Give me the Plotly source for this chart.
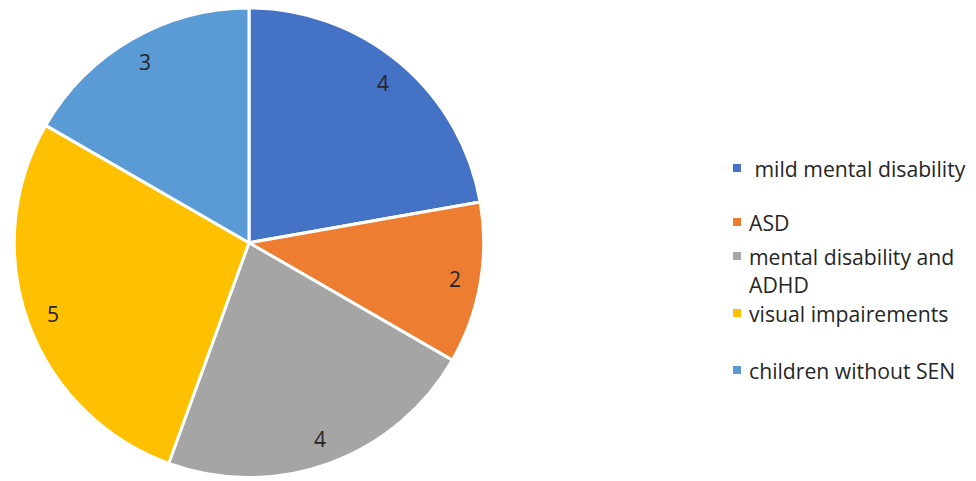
import math
import plotly.graph_objects as go

# data
labels = ["mild mental disability", "ASD", "mental disability and ADHD",
          "visual impairements", "children without SEN"]
values = [4, 2, 4, 5, 3]
colors = ["#4472C4", "#ED7D31", "#A5A5A5", "#FFC000", "#5B9BD5"]

W, H = 976, 481
OFF = 8                      # page body margin
cx, cy, R = 249 - OFF, 234.5, 232   # pie centre / radius in figure pixels
text_col = "#262626"
font_family = "Open Sans, Noto Sans, sans-serif"

dom = R + 3
fig = go.Figure(go.Pie(
    labels=labels, values=values, sort=False, direction="clockwise",
    rotation=0, marker=dict(colors=colors, line=dict(color="white", width=3)),
    textinfo="none", hoverinfo="label+value", showlegend=False,
    domain=dict(x=[max(0, (cx - dom) / W), min(1, (cx + dom) / W)],
                y=[max(0, (H - cy - dom) / H), min(1, (H - cy + dom) / H)]),
))

# value labels near the outer edge ("inside end")
total = sum(values)
acc = 0
for v in values:
    mid = (acc + v / 2) / total * 2 * math.pi
    acc += v
    px = cx + 0.9 * R * math.sin(mid)
    py = cy - 0.9 * R * math.cos(mid)
    fig.add_annotation(x=px / W, y=1 - py / H, xref="paper", yref="paper",
                       text=str(v), showarrow=False,
                       xanchor="center", yanchor="middle",
                       font=dict(size=21, color=text_col, family=font_family))

# legend drawn by hand so spacing follows the original
legend_y = [168, 222, 270, 313, 370]
legend_text = [" mild mental disability", "ASD", "mental disability and<br>ADHD",
               "visual impairements", "children without SEN"]
marker_y = [168, 222, 256, 313, 370]
for lab, col, ty, my in zip(legend_text, colors, legend_y, marker_y):
    ty, my = ty - OFF, my - OFF
    fig.add_shape(type="rect", xref="paper", yref="paper",
                  x0=(733 - OFF) / W, x1=(741 - OFF) / W,
                  y0=1 - (my + 4) / H, y1=1 - (my - 4) / H,
                  fillcolor=col, line=dict(width=0))
    fig.add_annotation(x=(747 - OFF) / W, y=1 - ty / H, xref="paper", yref="paper",
                       text=lab, showarrow=False, xanchor="left", yanchor="middle",
                       align="left",
                       font=dict(size=21.2, color=text_col, family=font_family))

fig.update_layout(width=W, height=H, margin=dict(l=0, r=0, t=0, b=0),
                  paper_bgcolor="white", plot_bgcolor="white")

fig.write_html("out.html")
